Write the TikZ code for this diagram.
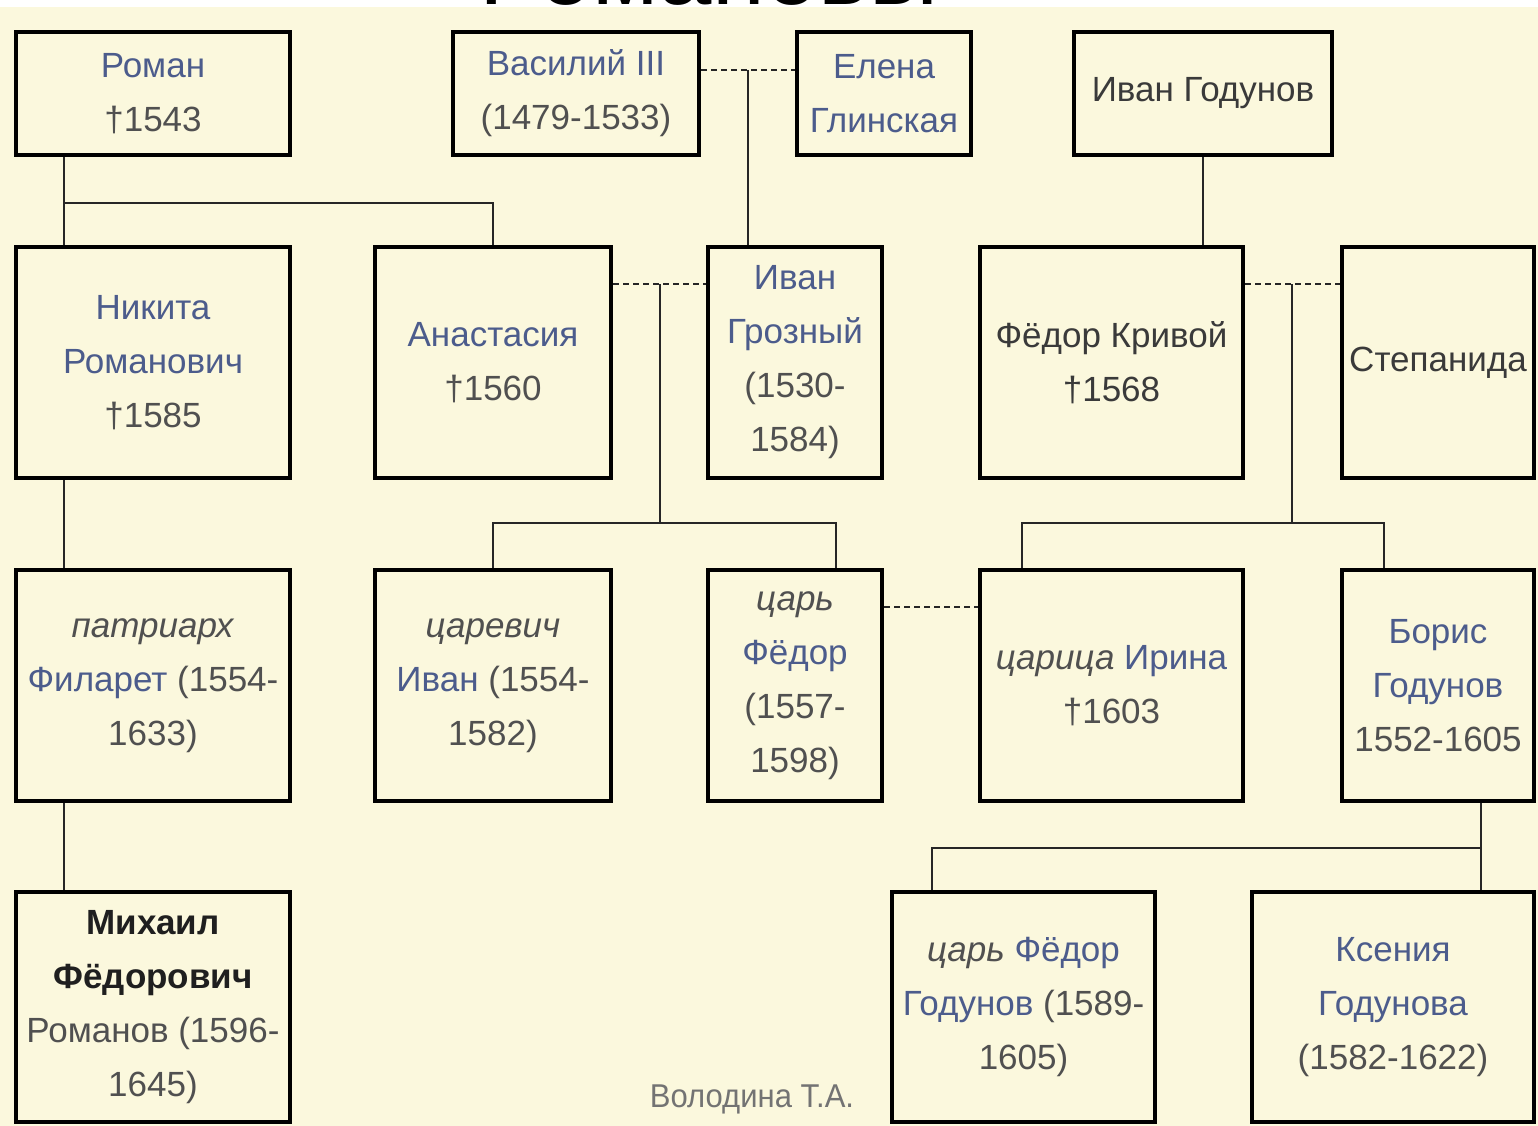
\documentclass[tikz,border=0pt]{standalone}
\usepackage{fontspec}
\setmainfont{Liberation Sans}
\definecolor{bg}{HTML}{FBF8DD}
\definecolor{nmcol}{HTML}{4C5C8C}
\definecolor{dtcol}{HTML}{505050}
\definecolor{dkcol}{HTML}{3A3A3A}
\newcommand\pname[1]{\textcolor{nmcol}{#1}}
\newcommand\ptitle[1]{\textit{#1}}
\begin{document}
\begin{tikzpicture}[x=1pt,y=-1pt,
  box/.style={draw=black, line width=4.5pt, fill=bg, inner sep=0pt, align=center,
    font=\fontsize{35}{54}\selectfont, text=dtcol},
  r1/.style={minimum height=123pt},
  r2/.style={minimum height=231pt},
  r4/.style={minimum height=230pt},
  conn/.style={line width=2pt, draw=black!85},
  marr/.style={conn, dash pattern=on 6pt off 4pt}]
\useasboundingbox (0,0) rectangle (1538,1126);
\clip (0,0) rectangle (1538,1126);
\fill[white] (0,0) rectangle (1538,7);
\fill[bg] (0,7) rectangle (1538,1126);
\node[anchor=base, font=\fontsize{96}{100}\selectfont, text=black] (title) at (709,5) {Романовы};

% coordinates of junctions
\coordinate (jr) at (64,203);
\coordinate (m1) at (748,70);
\coordinate (m2) at (660,284);
\coordinate (j2) at (660,523);
\coordinate (j2l) at (493,523);
\coordinate (j2r) at (836,523);
\coordinate (m3) at (1292,284);
\coordinate (j3) at (1292,523);
\coordinate (j3l) at (1022,523);
\coordinate (j3r) at (1384,523);
\coordinate (m4) at (930,607);
\coordinate (jb) at (1481,848);
\coordinate (jbl) at (932,848);

% row 1
\node[box, r1, minimum width=274pt] (roman) at (153,93.5) {\pname{Роман}\\†1543};
\node[box, r1, minimum width=246pt] (vasily) at (576,93.5) {\pname{Василий III}\\(1479-1533)};
\node[box, r1, minimum width=174pt] (elena) at (884,93.5) {\pname{Елена}\\\pname{Глинская}};
\node[box, r1, minimum width=258pt, text=dkcol] (igod) at (1203,93.5) {Иван Годунов};
% row 2
\node[box, r2, minimum width=274pt] (nikita) at (153,362.5) {\pname{Никита}\\\pname{Романович}\\†1585};
\node[box, r2, minimum width=236pt] (anast) at (493,362.5) {\pname{Анастасия}\\†1560};
\node[box, r2, minimum width=174pt] (grozny) at (795,362.5) {\pname{Иван}\\\pname{Грозный}\\(1530-\\1584)};
\node[box, r2, minimum width=263pt, text=dkcol] (fkriv) at (1111.5,362.5) {Фёдор Кривой\\†1568};
\node[box, r2, minimum width=192pt, text=dkcol] (stepan) at (1438,362.5) {Степанида};
% row 3
\node[box, r2, minimum width=274pt] (filaret) at (153,685.5) {\ptitle{патриарх}\\\pname{Филарет} (1554-\\1633)};
\node[box, r2, minimum width=236pt] (tsarevich) at (493,685.5) {\ptitle{царевич}\\\pname{Иван} (1554-\\1582)};
\node[box, r2, minimum width=174pt] (fedor) at (795,685.5) {\ptitle{царь}\\\pname{Фёдор}\\(1557-\\1598)};
\node[box, r2, minimum width=263pt] (irina) at (1111.5,685.5) {\ptitle{царица} \pname{Ирина}\\†1603};
\node[box, r2, minimum width=192pt] (boris) at (1438,685.5) {\pname{Борис}\\\pname{Годунов}\\1552-1605};
% row 4
\node[box, r4, minimum width=274pt] (mikhail) at (153,1007) {\textcolor{black!88}{\textbf{Михаил}}\\\textcolor{black!88}{\textbf{Фёдорович}}\\Романов (1596-\\1645)};
\node[box, r4, minimum width=263pt] (fgod) at (1023.5,1007) {\ptitle{царь} \pname{Фёдор}\\\pname{Годунов} (1589-\\1605)};
\node[box, r4, minimum width=282pt] (ksenia) at (1393,1007) {\pname{Ксения}\\\pname{Годунова}\\(1582-1622)};

% connectors
\draw[conn] (roman.south -| jr) -- (nikita.north -| jr);
\draw[conn] (jr) -| (anast.north);
\draw[marr] (vasily.east |- m1) -- (elena.west |- m1);
\draw[conn] (m1) -- (grozny.north -| m1);
\draw[conn] (igod.south) -- (fkriv.north -| igod.south);
\draw[marr] (anast.east |- m2) -- (grozny.west |- m2);
\draw[conn] (m2) -- (j2);
\draw[conn] (tsarevich.north) -- (j2l) -- (j2r) -- (fedor.north -| j2r);
\draw[marr] (fkriv.east |- m3) -- (stepan.west |- m3);
\draw[conn] (m3) -- (j3);
\draw[conn] (irina.north -| j3l) -- (j3l) -- (j3r) -- (boris.north -| j3r);
\draw[conn] (nikita.south -| jr) -- (filaret.north -| jr);
\draw[conn] (filaret.south -| jr) -- (mikhail.north -| jr);
\draw[marr] (fedor.east |- m4) -- (irina.west |- m4);
\draw[conn] (boris.south -| jb) -- (ksenia.north -| jb);
\draw[conn] (jb) -- (jbl) -- (fgod.north -| jbl);

\node[font=\fontsize{33}{36}\selectfont, text=black!55, xscale=0.94, transform shape] (sign) at (752,1099) {Володина Т.А.};
\end{tikzpicture}
\end{document}
